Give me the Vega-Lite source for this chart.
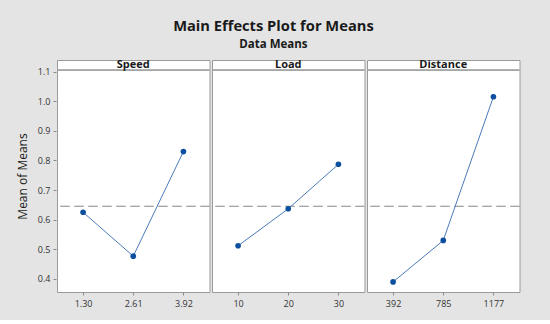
{
  "$schema": "https://vega.github.io/schema/vega-lite/v6.json",
  "background": "#e4e4e4",
  "padding": {"left": 16, "right": 30, "top": 19, "bottom": 11},
  "title": {
    "text": "Main Effects Plot for Means",
    "subtitle": "Data Means",
    "anchor": "middle",
    "frame": "bounds",
    "dx": 5,
    "fontSize": 14.7,
    "fontWeight": "bold",
    "color": "#1a1a1a",
    "subtitleFontSize": 11.5,
    "subtitleFontWeight": "bold",
    "subtitleColor": "#1a1a1a",
    "subtitlePadding": 5,
    "offset": 8
  },
  "data": {
    "values": [
      {"factor": "Speed", "level": "1.30", "levelValue": 1.30, "mean": 0.625},
      {"factor": "Speed", "level": "2.61", "levelValue": 2.61, "mean": 0.477},
      {"factor": "Speed", "level": "3.92", "levelValue": 3.92, "mean": 0.830},
      {"factor": "Load", "level": "10", "levelValue": 10, "mean": 0.512},
      {"factor": "Load", "level": "20", "levelValue": 20, "mean": 0.637},
      {"factor": "Load", "level": "30", "levelValue": 30, "mean": 0.787},
      {"factor": "Distance", "level": "392", "levelValue": 392, "mean": 0.390},
      {"factor": "Distance", "level": "785", "levelValue": 785, "mean": 0.530},
      {"factor": "Distance", "level": "1177", "levelValue": 1177, "mean": 1.015}
    ]
  },
  "facet": {
    "column": {"field": "factor", "type": "nominal", "sort": ["Speed", "Load", "Distance"], "header": null}
  },
  "spacing": 0,
  "resolve": {"scale": {"x": "independent"}},
  "spec": {
    "width": 152.5,
    "height": 232,
    "layer": [
      {
        "mark": {"type": "rule", "color": "#a6a6a6", "strokeWidth": 1, "strokeDash": [9, 5]},
        "encoding": {
          "y": {
            "datum": 0.645,
            "type": "quantitative",
            "scale": {"domain": [0.356, 1.139], "nice": false, "zero": false},
            "axis": {"title": "Mean of Means", "values": [0.4, 0.5, 0.6, 0.7, 0.8, 0.9, 1.0, 1.1], "tickCount": 8, "format": ".1f", "labelOverlap": false, "grid": false, "domain": false, "tickSize": 3, "tickColor": "#8a8a8a", "labelFontSize": 9, "labelColor": "#333333", "labelPadding": 3, "titleFontSize": 12, "titleFontWeight": "normal", "titleColor": "#1a1a1a", "titlePadding": 8}
          }
        }
      },
      {
        "mark": {"type": "rule", "color": "#a0a0a0", "strokeWidth": 1},
        "encoding": {"y": {"datum": 1.105, "type": "quantitative"}}
      },
      {
        "transform": [{"aggregate": [{"op": "count", "as": "n"}], "groupby": ["factor"]}],
        "mark": {"type": "text", "fontSize": 11, "fontWeight": "bold", "color": "#1a1a1a", "baseline": "middle"},
        "encoding": {
          "y": {"datum": 1.1225, "type": "quantitative"},
          "text": {"field": "factor", "type": "nominal"}
        }
      },
      {
        "mark": {"type": "line", "color": "#4a7bb8", "strokeWidth": 1, "point": {"filled": true, "color": "#0b4f9e", "size": 32, "opacity": 1}},
        "encoding": {
          "x": {
            "field": "level",
            "type": "ordinal",
            "sort": {"field": "levelValue", "op": "min"},
            "scale": {"type": "point", "padding": 0.52},
            "axis": {"title": null, "labelAngle": 0, "domain": false, "tickSize": 3, "tickColor": "#8a8a8a", "labelFontSize": 9, "labelColor": "#333333", "labelPadding": 4}
          },
          "y": {
            "field": "mean",
            "type": "quantitative"
          },
          "order": {"field": "levelValue", "type": "quantitative"}
        }
      }
    ]
  },
  "config": {
    "font": "Open Sans",
    "view": {"fill": "white", "stroke": "#9a9a9a", "strokeWidth": 1}
  }
}
